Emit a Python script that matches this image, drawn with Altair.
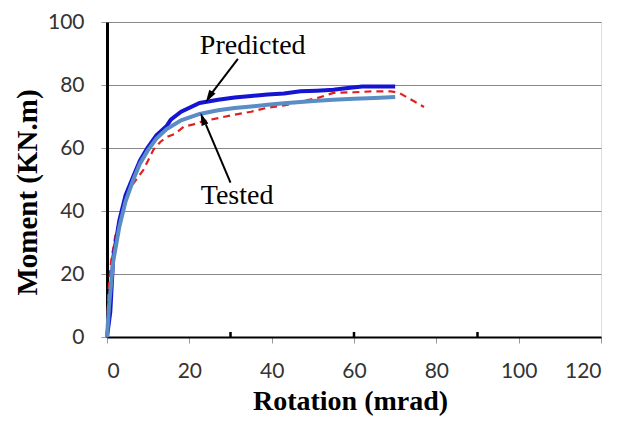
import altair as alt
import pandas as pd

# Predicted curve (blue)
pred_x = [0, 0.8, 1.5, 3, 4.5, 6.4, 8, 9.8, 12, 14.5, 15.5, 18, 22.5, 27, 31, 35, 39, 43, 47, 51, 55, 58, 62, 66, 70]
pred_y = [0, 8, 25, 37, 45, 51, 56, 60, 64, 67, 69, 71.5, 74.3, 75.3, 76, 76.5, 77, 77.3, 78, 78.2, 78.5, 79, 79.5, 79.5, 79.5]

# Tested curve (steel blue)
test_x = [0, 0.5, 1.5, 3, 4.5, 6.4, 8, 9.8, 12, 14.5, 18, 22.5, 27, 31, 35, 39, 43, 47, 51, 55, 60, 65, 70]
test_y = [0, 10, 24, 35, 43, 50, 55, 59, 63, 66, 68.8, 70.8, 72, 72.7, 73.2, 73.7, 74.2, 74.6, 75, 75.3, 75.6, 75.9, 76.2]

# Experimental curve (red dashed)
red_x = [0, 0.3, 1, 2, 4, 6, 8.8, 11.3, 13, 14.7, 16.5, 18.7, 21, 23, 27, 31, 35, 39, 43, 47, 51, 55, 60, 65, 69, 71, 73, 75, 77]
red_y = [0, 14, 24, 32, 42, 48, 53, 59.5, 62, 63.6, 64.5, 66.8, 67.5, 68.4, 69.5, 70.6, 71.5, 72.8, 73.5, 74.7, 75.8, 77.5, 77.7, 78, 78, 77.5, 76, 74.5, 73]

# Annotations
ann_text = ["Predicted", "Tested"]
ann_x = [35.4, 31.6]
ann_y = [92.3, 44.8]
arrow_x = [31.8, 30.0]
arrow_y = [88.3, 49.0]
arrow_x2 = [25.5, 24.0]
arrow_y2 = [77.5, 67.5]
head_x = [25.0, 23.4]
head_y = [76.6, 68.8]
head_angle = [211, 340]

# secondary tick marks on the bottom axis
minor_x = [30, 60, 90]

df_pred = pd.DataFrame({"x": pred_x, "y": pred_y, "o": range(len(pred_x))})
df_test = pd.DataFrame({"x": test_x, "y": test_y, "o": range(len(test_x))})
df_red = pd.DataFrame({"x": red_x, "y": red_y, "o": range(len(red_x))})
df_ann = pd.DataFrame({"t": ann_text, "x": ann_x, "y": ann_y})
df_arr = pd.DataFrame({"x": arrow_x, "y": arrow_y, "x2": arrow_x2, "y2": arrow_y2})
df_head = pd.DataFrame({"x": head_x, "y": head_y, "a": head_angle})
df_minor = pd.DataFrame({"x": minor_x, "y0": [0] * 3, "y1": [1.6] * 3})

xs = alt.Scale(domain=[0, 120], nice=False)
ys = alt.Scale(domain=[0, 100], nice=False)

xaxis = alt.Axis(values=[0, 20, 40, 60, 80, 100, 120], grid=False, domainColor="black", domainWidth=2,
                 tickColor="#999", tickSize=6, labelFont="Lato", labelFontSize=21, labelColor="#333",
                 labelPadding=17, title="Rotation (mrad)", titleFont="Liberation Serif", titleFontSize=28,
                 titleFontWeight="bold", titleColor="black", titleX=243, titleY=64, titleBaseline="middle")
yaxis = alt.Axis(values=[0, 20, 40, 60, 80, 100], grid=True, gridColor="#888", gridWidth=1,
                 domainColor="black", domainWidth=3, tickColor="#999", tickSize=6,
                 labelFont="Lato", labelFontSize=21, labelColor="#333", labelPadding=17,
                 title="Moment (KN.m)", titleFont="Liberation Serif", titleFontSize=29,
                 titleFontWeight="bold", titleColor="black", titleX=-80, titleY=170,
                 titleBaseline="middle", titleAngle=-90)

red = alt.Chart(df_red).mark_line(color="#E02020", strokeWidth=2.2, strokeDash=[7, 5]).encode(
    x=alt.X("x:Q", scale=xs, axis=xaxis), y=alt.Y("y:Q", scale=ys, axis=yaxis), order="o:Q")

pred_line = alt.Chart(df_pred).mark_line(strokeWidth=4, color="#1414D2").encode(
    x=alt.X("x:Q", scale=xs), y=alt.Y("y:Q", scale=ys), order="o:Q")
test_line = alt.Chart(df_test).mark_line(strokeWidth=4, color="#5A8CC6").encode(
    x=alt.X("x:Q", scale=xs), y=alt.Y("y:Q", scale=ys), order="o:Q")

minor = alt.Chart(df_minor).mark_rule(color="black", strokeWidth=2.5).encode(
    x=alt.X("x:Q", scale=xs), y=alt.Y("y0:Q", scale=ys), y2="y1:Q")

text = alt.Chart(df_ann).mark_text(font="Liberation Serif", fontSize=28, color="black", baseline="middle").encode(
    x=alt.X("x:Q", scale=xs), y=alt.Y("y:Q", scale=ys), text="t:N")

arrows = alt.Chart(df_arr).mark_rule(color="black", strokeWidth=2).encode(
    x=alt.X("x:Q", scale=xs), y=alt.Y("y:Q", scale=ys), x2="x2:Q", y2="y2:Q")

heads = alt.Chart(df_head).mark_point(shape="M0,-1L0.45,0.6L-0.45,0.6Z", filled=True, color="black",
                                      size=260, opacity=1).encode(
    x=alt.X("x:Q", scale=xs), y=alt.Y("y:Q", scale=ys), angle=alt.Angle("a:Q", scale=None))

chart = alt.layer(red, pred_line, test_line, minor, arrows, heads, text).properties(
    width=494, height=315,
    autosize=alt.AutoSizeParams(type="none"),
    padding={"left": 99, "top": 14, "right": 10, "bottom": 79},
).configure_view(stroke="#444", strokeWidth=1.5).configure(background="white")

chart.save("out.html", embed_options={"renderer": "svg", "actions": False})
